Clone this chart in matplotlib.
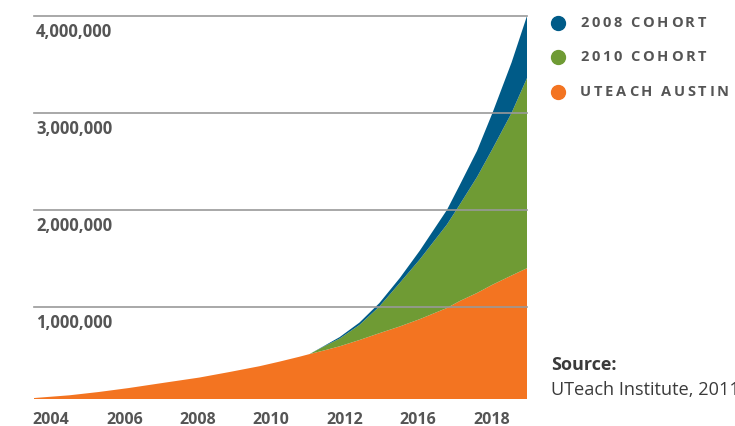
import numpy as np
import matplotlib
matplotlib.use('Agg')
import matplotlib.pyplot as plt
from matplotlib.lines import Line2D

#### Data ###########################################
# horizontal position along the axis, in tick units (0 = 2004 label ... 6 = 2018 label)
pos = [-0.23, 0.25, 0.65, 1.06, 1.51, 2.02, 2.43, 2.84, 3.11, 3.38, 3.52, 3.72,
       3.93, 4.20, 4.47, 4.75, 5.02, 5.39, 5.56, 5.80, 6.01, 6.27, 6.48]
# students reached, per series (stacked)
uteach_austin = [62000, 90000, 124000, 165000, 216000, 273000, 330000, 390000,
                 437000, 487000, 515000, 553000, 595000, 660000, 730000, 800000,
                 875000, 990000, 1060000, 1145000, 1230000, 1325000, 1400000]
cohort_2010 = [0, 0, 0, 0, 0, 0, 0, 0, 0, 0, 0, 42000,
               80000, 155000, 275000, 450000, 615000, 860000, 990000, 1195000,
               1400000, 1675000, 1960000]
cohort_2008 = [0, 0, 0, 0, 0, 0, 0, 0, 0, 0, 0, 5000,
               15000, 25000, 35000, 50000, 90000, 150000, 200000, 270000,
               370000, 520000, 640000]

year_labels = ['2004', '2006', '2008', '2010', '2012', '2016', '2018']
y_ticks = [1000000, 2000000, 3000000, 4000000]
legend_labels = ['2008 COHORT', '2010 COHORT', 'UTEACH AUSTIN']
#####################################################

c_blue = '#005b88'
c_green = '#6f9b34'
c_orange = '#f37421'
c_text = '#555555'

plt.rcParams['font.family'] = ['Open Sans', 'DejaVu Sans']

W, H = 735, 426
fig = plt.figure(figsize=(W / 100.0, H / 100.0), dpi=100)
ax = fig.add_axes([34.0 / W, (H - 399.0) / H, 493.0 / W, 385.0 / H])

ax.stackplot(pos, uteach_austin, cohort_2010, cohort_2008,
             colors=[c_orange, c_green, c_blue], lw=0, zorder=1)

ax.set_xlim(pos[0], pos[-1])
ax.set_ylim(52000, 4020000)

# gridlines sit over the areas
for v in y_ticks:
    ax.axhline(v, color='#999999', lw=1.2, zorder=3, clip_on=False)
    ax.annotate('{:,}'.format(v), xy=(0, v), xycoords=('axes fraction', 'data'),
                xytext=(2, -16), textcoords='offset pixels', ha='left', va='center',
                fontsize=12, fontweight='bold', color=c_text, zorder=4)

ax.set_xticks(range(len(year_labels)))
ax.set_xticklabels(year_labels, fontsize=11.5, fontweight='bold', color=c_text)
ax.tick_params(axis='x', length=0, pad=9)
ax.set_yticks([])
for s in ax.spines.values():
    s.set_visible(False)

# legend with letter-spaced caps
renderer = fig.canvas.get_renderer()

def spaced_text(x_px, y_px, txt, gap=2.7, space=6.0, **kw):
    x = x_px
    for ch in txt:
        if ch == ' ':
            x += space
            continue
        t = fig.text(x / W, 1 - y_px / H, ch, ha='left', va='center', **kw)
        bb = t.get_window_extent(renderer)
        x += bb.width + gap

legend_colors = [c_blue, c_green, c_orange]
legend_y = [22.7, 56.7, 91.7]
for lab, col, yy in zip(legend_labels, legend_colors, legend_y):
    fig.add_artist(Line2D([558.0 / W], [1 - yy / H], marker='o', markersize=10,
                          color=col, lw=0, transform=fig.transFigure))
    spaced_text(580, yy, lab, fontsize=10.5, fontweight='bold', color=c_text)

fig.text(551.0 / W, 1 - 365.0 / H, 'Source:', ha='left', va='center',
         fontsize=13, fontweight='bold', color='#3a3a3a')
fig.text(551.0 / W, 1 - 390.0 / H, 'UTeach Institute, 2011', ha='left', va='center',
         fontsize=13.1, color='#3a3a3a')

fig.savefig('out.png', dpi=100)
